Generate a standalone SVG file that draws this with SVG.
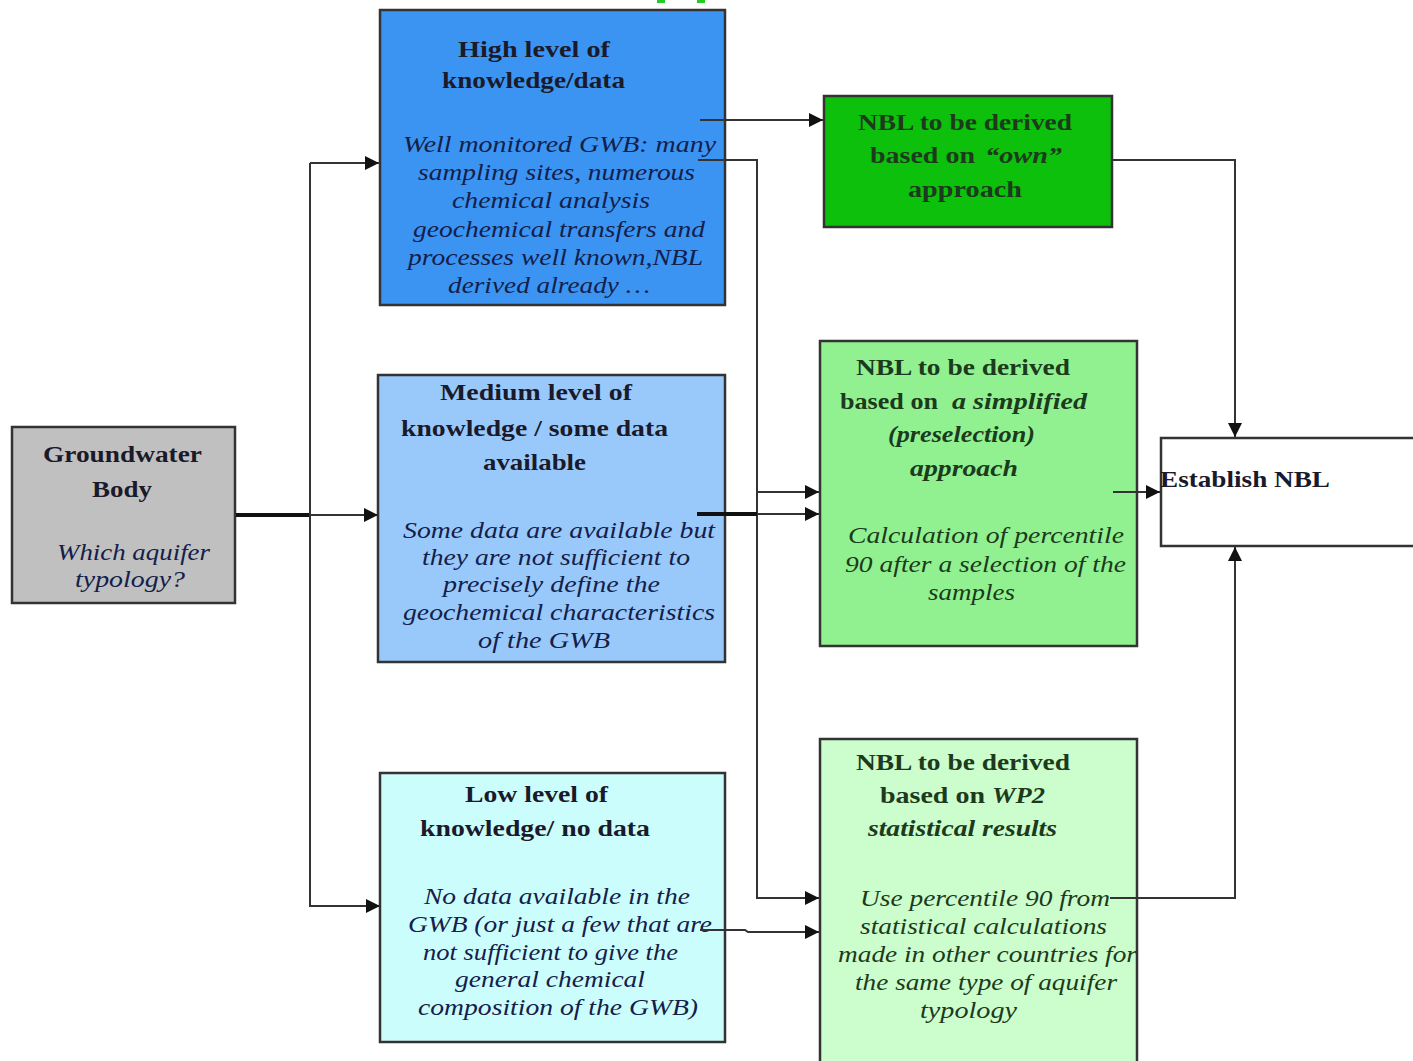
<svg xmlns="http://www.w3.org/2000/svg" width="1413" height="1061" viewBox="0 0 1413 1061">
<style>
.box{stroke:#333;stroke-width:2.5}
.h{font-family:"Liberation Serif","Times New Roman",serif;font-weight:bold;font-size:23px;fill:#1a1a2a}
.hi{font-family:"Liberation Serif","Times New Roman",serif;font-weight:bold;font-style:italic;font-size:23px;fill:#1a2a1a}
.b{font-family:"Liberation Serif","Times New Roman",serif;font-style:italic;font-size:23px;fill:#14204a}
.g{fill:#1c3a1c}
.c{fill:none;stroke:#333;stroke-width:2}
.ct{fill:none;stroke:#111;stroke-width:4}
</style>
<defs>
<marker id="ah" viewBox="0 0 14 14" refX="14" refY="7" markerWidth="16" markerHeight="14" markerUnits="userSpaceOnUse" orient="auto">
<path d="M0,0 L14,7 L0,14 z" fill="#111"/>
</marker>
</defs>
<rect width="1413" height="1061" fill="#fff"/>
<rect x="657" y="0" width="8" height="3" fill="#22cc22"/>
<rect x="697" y="0" width="8" height="3" fill="#22cc22"/>

<g id="gwb">
<rect class="box" x="12" y="427" width="223" height="176" fill="#c0c0c0"/>
<text class="h" x="43" y="462" textLength="159" lengthAdjust="spacingAndGlyphs">Groundwater</text>
<text class="h" x="92" y="497" textLength="60" lengthAdjust="spacingAndGlyphs">Body</text>
<text class="b" x="57" y="560" textLength="153" lengthAdjust="spacingAndGlyphs" fill="#222">Which aquifer</text>
<text class="b" x="75" y="587" textLength="110" lengthAdjust="spacingAndGlyphs" fill="#222">typology?</text>
</g>

<g id="high">
<rect class="box" x="380" y="10" width="345" height="295" fill="#3b94f2"/>
<text class="h" x="458" y="57" textLength="152" lengthAdjust="spacingAndGlyphs">High level of</text>
<text class="h" x="442" y="88" textLength="183" lengthAdjust="spacingAndGlyphs">knowledge/data</text>
<text class="b" x="403" y="152" textLength="313" lengthAdjust="spacingAndGlyphs">Well monitored GWB: many</text>
<text class="b" x="418" y="180" textLength="277" lengthAdjust="spacingAndGlyphs">sampling sites, numerous</text>
<text class="b" x="452" y="208" textLength="198" lengthAdjust="spacingAndGlyphs">chemical analysis</text>
<text class="b" x="413" y="237" textLength="292" lengthAdjust="spacingAndGlyphs">geochemical transfers and</text>
<text class="b" x="408" y="265" textLength="295" lengthAdjust="spacingAndGlyphs">processes well known,NBL</text>
<text class="b" x="448" y="293" textLength="202" lengthAdjust="spacingAndGlyphs">derived already …</text>
</g>

<g id="medium">
<rect class="box" x="378" y="375" width="347" height="287" fill="#99c9fb"/>
<text class="h" x="440" y="400" textLength="192" lengthAdjust="spacingAndGlyphs">Medium level of</text>
<text class="h" x="401" y="436" textLength="267" lengthAdjust="spacingAndGlyphs">knowledge / some data</text>
<text class="h" x="483" y="470" textLength="103" lengthAdjust="spacingAndGlyphs">available</text>
<text class="b" x="403" y="538" textLength="312" lengthAdjust="spacingAndGlyphs">Some data are available but</text>
<text class="b" x="422" y="565" textLength="268" lengthAdjust="spacingAndGlyphs">they are not sufficient to</text>
<text class="b" x="443" y="592" textLength="217" lengthAdjust="spacingAndGlyphs">precisely define the</text>
<text class="b" x="403" y="620" textLength="312" lengthAdjust="spacingAndGlyphs">geochemical characteristics</text>
<text class="b" x="478" y="648" textLength="132" lengthAdjust="spacingAndGlyphs">of the GWB</text>
</g>

<g id="low">
<rect class="box" x="380" y="773" width="345" height="269" fill="#ccfdfd"/>
<text class="h" x="465" y="802" textLength="143" lengthAdjust="spacingAndGlyphs">Low level of</text>
<text class="h" x="420" y="836" textLength="230" lengthAdjust="spacingAndGlyphs">knowledge/ no data</text>
<text class="b" x="424" y="904" textLength="266" lengthAdjust="spacingAndGlyphs" fill="#1e2e3e">No data available in the</text>
<text class="b" x="408" y="932" textLength="304" lengthAdjust="spacingAndGlyphs" fill="#1e2e3e">GWB (or just a few that are</text>
<text class="b" x="423" y="960" textLength="255" lengthAdjust="spacingAndGlyphs" fill="#1e2e3e">not sufficient to give the</text>
<text class="b" x="455" y="987" textLength="190" lengthAdjust="spacingAndGlyphs" fill="#1e2e3e">general chemical</text>
<text class="b" x="418" y="1015" textLength="280" lengthAdjust="spacingAndGlyphs" fill="#1e2e3e">composition of the GWB)</text>
</g>

<g id="nbl-own">
<rect class="box" x="824" y="96" width="288" height="131" fill="#0cc00c"/>
<text class="h g" x="858" y="130" textLength="214" lengthAdjust="spacingAndGlyphs">NBL to be derived</text>
<text class="h g" x="870" y="163" textLength="105" lengthAdjust="spacingAndGlyphs">based on</text>
<text class="hi g" x="985" y="163" textLength="77" lengthAdjust="spacingAndGlyphs">“own”</text>
<text class="h g" x="908" y="197" textLength="114" lengthAdjust="spacingAndGlyphs">approach</text>
</g>

<g id="nbl-simplified">
<rect class="box" x="820" y="341" width="317" height="305" fill="#91f191"/>
<text class="h g" x="856" y="375" textLength="214" lengthAdjust="spacingAndGlyphs">NBL to be derived</text>
<text class="h g" x="840" y="409" textLength="98" lengthAdjust="spacingAndGlyphs">based on</text>
<text class="hi g" x="952" y="409" textLength="135" lengthAdjust="spacingAndGlyphs">a simplified</text>
<text class="hi g" x="888" y="442" textLength="147" lengthAdjust="spacingAndGlyphs">(preselection)</text>
<text class="hi g" x="910" y="476" textLength="108" lengthAdjust="spacingAndGlyphs">approach</text>
<text class="b g" x="848" y="543" textLength="276" lengthAdjust="spacingAndGlyphs">Calculation of percentile</text>
<text class="b g" x="845" y="572" textLength="281" lengthAdjust="spacingAndGlyphs">90 after a selection of the</text>
<text class="b g" x="928" y="600" textLength="87" lengthAdjust="spacingAndGlyphs">samples</text>
</g>

<g id="nbl-wp2">
<rect class="box" x="820" y="739" width="317" height="330" fill="#ccfdcc"/>
<text class="h g" x="856" y="770" textLength="214" lengthAdjust="spacingAndGlyphs">NBL to be derived</text>
<text class="h g" x="880" y="803" textLength="105" lengthAdjust="spacingAndGlyphs">based on</text>
<text class="hi g" x="992" y="803" textLength="53" lengthAdjust="spacingAndGlyphs">WP2</text>
<text class="hi g" x="868" y="836" textLength="189" lengthAdjust="spacingAndGlyphs">statistical results</text>
<text class="b g" x="860" y="906" textLength="250" lengthAdjust="spacingAndGlyphs">Use percentile 90 from</text>
<text class="b g" x="860" y="934" textLength="247" lengthAdjust="spacingAndGlyphs">statistical calculations</text>
<text class="b g" x="838" y="962" textLength="299" lengthAdjust="spacingAndGlyphs">made in other countries for</text>
<text class="b g" x="855" y="990" textLength="262" lengthAdjust="spacingAndGlyphs">the same type of aquifer</text>
<text class="b g" x="920" y="1018" textLength="97" lengthAdjust="spacingAndGlyphs">typology</text>
</g>

<g id="establish">
<rect class="box" x="1161" y="438" width="260" height="108" fill="#fff"/>
<text class="h" x="1160" y="487" textLength="170" lengthAdjust="spacingAndGlyphs">Establish NBL</text>
</g>

<g id="connectors">
<line class="ct" x1="236" y1="515" x2="310" y2="515"/>
<line class="c" x1="310" y1="515" x2="378" y2="515" marker-end="url(#ah)"/>
<polyline class="c" points="310,163 310,906 380,906" marker-end="url(#ah)"/>
<line class="c" x1="310" y1="163" x2="379" y2="163" marker-end="url(#ah)"/>
<line class="c" x1="700" y1="120" x2="823" y2="120" marker-end="url(#ah)" stroke="#555"/>
<polyline class="c" points="698,160 757,160 757,898 819,898" marker-end="url(#ah)"/>
<line class="c" x1="757" y1="492" x2="819" y2="492" marker-end="url(#ah)"/>
<line class="ct" x1="697" y1="514" x2="757" y2="514" stroke-width="3"/>
<line class="c" x1="757" y1="514" x2="819" y2="514" marker-end="url(#ah)"/>
<polyline class="c" points="700,930 745,930 748,932 819,932" marker-end="url(#ah)"/>
<polyline class="c" points="1113,160 1235,160 1235,437" marker-end="url(#ah)"/>
<line class="c" x1="1113" y1="492" x2="1160" y2="492" marker-end="url(#ah)"/>
<polyline class="c" points="1110,898 1235,898 1235,547" marker-end="url(#ah)"/>
</g>
</svg>
